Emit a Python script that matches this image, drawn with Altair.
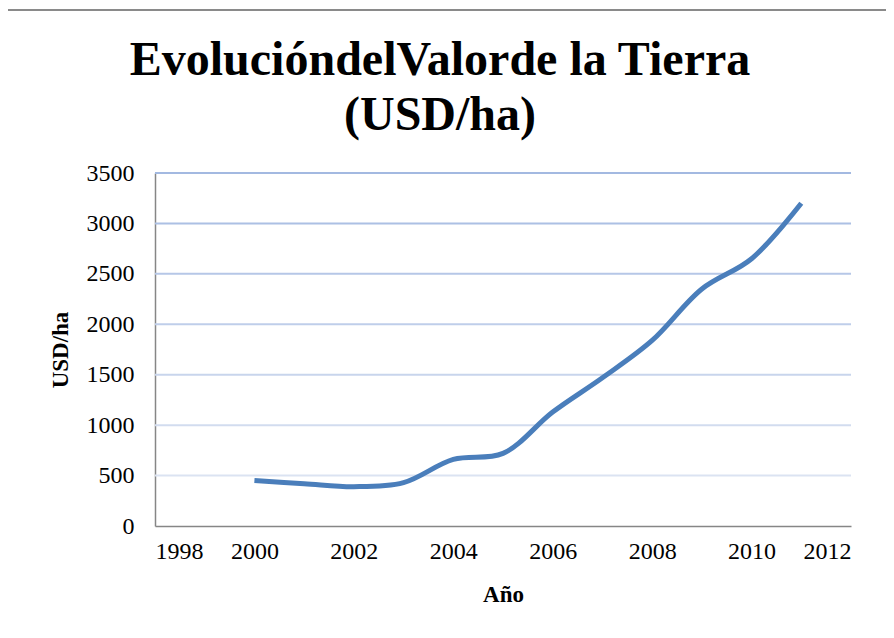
import altair as alt
import pandas as pd

years = [2000, 2001, 2002, 2003, 2004, 2005, 2006, 2007, 2008, 2009, 2010, 2011]
values = [450, 420, 390, 430, 660, 720, 1130, 1470, 1840, 2350, 2650, 3200]
y_ticks = [0, 500, 1000, 1500, 2000, 2500, 3000, 3500]
x_ticks = [1998, 2000, 2002, 2004, 2006, 2008, 2010, 2012]
grid_levels = [500, 1000, 1500, 2000, 2500, 3000, 3500]
title_lines = ["EvolucióndelValorde la Tierra", "(USD/ha)"]

df = pd.DataFrame({"year": years, "value": values})
grid_df = pd.DataFrame({"g": grid_levels})

SERIF = "Liberation Serif, Times New Roman, serif"
W, H = 696, 353

xscale = alt.Scale(domain=[1998, 2012], nice=False, zero=False)
yscale = alt.Scale(domain=[0, 3500], nice=False)

y_axis = alt.Axis(values=y_ticks, format="d", grid=False, ticks=False, labelPadding=21,
                  titlePadding=14, domainColor="#868686", domainWidth=1.5)
x_axis = alt.Axis(values=x_ticks, format="d", grid=False, ticks=False,
                  labelPadding=13, titlePadding=20, domainColor="#868686",
                  domainWidth=1.5)

frame = alt.Chart(pd.DataFrame({"a": [0]})).mark_rect(
    fill=None, stroke="#8a8a8a", strokeWidth=2
).encode(
    x=alt.value(-148), x2=alt.value(W + 60),
    y=alt.value(-163), y2=alt.value(H + 140)
)

title = alt.Chart(pd.DataFrame({"a": [0]})).mark_text(
    text=title_lines, font=SERIF, fontSize=48, fontWeight="bold", color="#000000",
    align="center", baseline="alphabetic", lineHeight=55
).encode(x=alt.value(285), y=alt.value(-98))

grid = alt.Chart(grid_df).mark_rule(strokeWidth=2).encode(
    y=alt.Y("g:Q", scale=yscale, title="USD/ha", axis=y_axis),
    x=alt.value(0), x2=alt.value(W),
    color=alt.Color("g:Q", scale=alt.Scale(domain=[500, 3500], range=["#dbe3f2", "#a3b9e1"]), legend=None),
)

line = alt.Chart(df).mark_line(
    color="#4a7ebb", strokeWidth=5, interpolate="catmull-rom"
).encode(
    x=alt.X("year:Q", scale=xscale, title="Año", axis=x_axis),
    y=alt.Y("value:Q", scale=yscale, title="USD/ha", axis=y_axis),
)

chart = alt.layer(frame, grid, line, title).properties(
    width=W, height=H,
    autosize=alt.AutoSizeParams(type="none"),
    padding={"left": 147, "top": 165, "right": 35, "bottom": 100},
).configure_view(stroke=None).configure_axis(
    labelFont=SERIF, labelFontSize=24, labelColor="#000000",
    titleFont=SERIF, titleFontSize=23, titleFontWeight="bold", titleColor="#000000",
)

chart.save("out.html", embed_options={"renderer": "svg", "actions": False})
